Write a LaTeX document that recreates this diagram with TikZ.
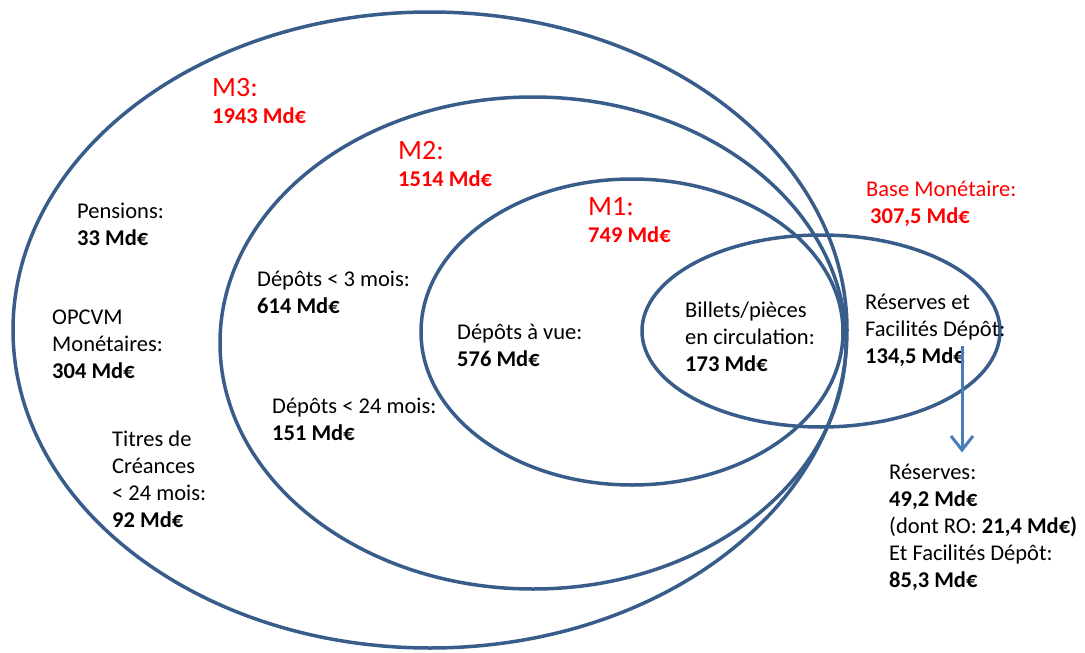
\documentclass[tikz,border=0pt]{standalone}
\usepackage{fontspec}
\setmainfont{Carlito}
\usetikzlibrary{arrows.meta}
\definecolor{ringblue}{RGB}{56,93,138}
\definecolor{arrblue}{RGB}{74,126,187}
\definecolor{mred}{RGB}{255,0,0}
\newcommand{\mbig}[1]{{\fontsize{28}{27}\selectfont #1}}

\begin{document}
\begin{tikzpicture}[x=1pt, y=-1pt,
    ring/.style={draw=ringblue, line width=3.5pt},
    lbl/.style={anchor=base west, inner sep=0pt, align=left,
      font=\fontsize{22.5}{27}\selectfont},
    agg/.style={lbl, text=mred},
    arr/.style={draw=arrblue, line width=3pt,
      -{Straight Barb[length=14pt,width=22pt]}}]
  \useasboundingbox (0,0) rectangle (1085,653);

  % Aggregates M3, M2, M1 and base money
  \draw[ring] (430,330) ellipse (417 and 318);
  \draw[ring] (533,343) ellipse (313 and 246);
  \draw[ring] (632,332) ellipse (211 and 153);
  \draw[ring] (821,331) ellipse (179 and 96);

  % Red headings (placed at the baseline of their last line)
  \node[agg] (m3) at (212,123) {\mbig{M3:}\\\textbf{1943 Md€}};
  \node[agg] (m2) at (398,186) {\mbig{M2:}\\\textbf{1514 Md€}};
  \node[agg] (m1) at (588,242) {\mbig{M1:}\\\textbf{749 Md€}};
  \node[agg] (bm) at (866,223) {Base Monétaire:\\\hspace{4pt}\textbf{307,5 Md€}};

  % Components
  \node[lbl] (pens) at (77,245) {Pensions:\\\textbf{33 Md€}};
  \node[lbl] (opcvm) at (52,378) {OPCVM\\Monétaires:\\\textbf{304 Md€}};
  \node[lbl] (titres) at (112,527) {Titres de\\Créances\\< 24 mois:\\\textbf{92 Md€}};
  \node[lbl] (dep3) at (257,313) {Dépôts < 3 mois:\\\textbf{614 Md€}};
  \node[lbl] (dep24) at (272,440) {Dépôts < 24 mois:\\\textbf{151 Md€}};
  \node[lbl] (depvue) at (457,366) {Dépôts à vue:\\\textbf{576 Md€}};
  \node[lbl] (billets) at (685,371) {Billets/pièces\\en circulation:\\\textbf{173 Md€}};
  \node[lbl] (resfac) at (865,363) {Réserves et\\Facilités Dépôt:\\\textbf{134,5 Md€}};
  \node[lbl] (reserves) at (889,587) {Réserves:\\\textbf{49,2 Md€}\\(dont RO: \textbf{21,4 Md€)}\\Et Facilités Dépôt:\\\textbf{85,3 Md€}};

  % Split of the reserves
  \coordinate (split) at (962,346);
  \draw[arr, shorten >=11pt] (split) -- (split |- reserves.north);
\end{tikzpicture}
\end{document}
